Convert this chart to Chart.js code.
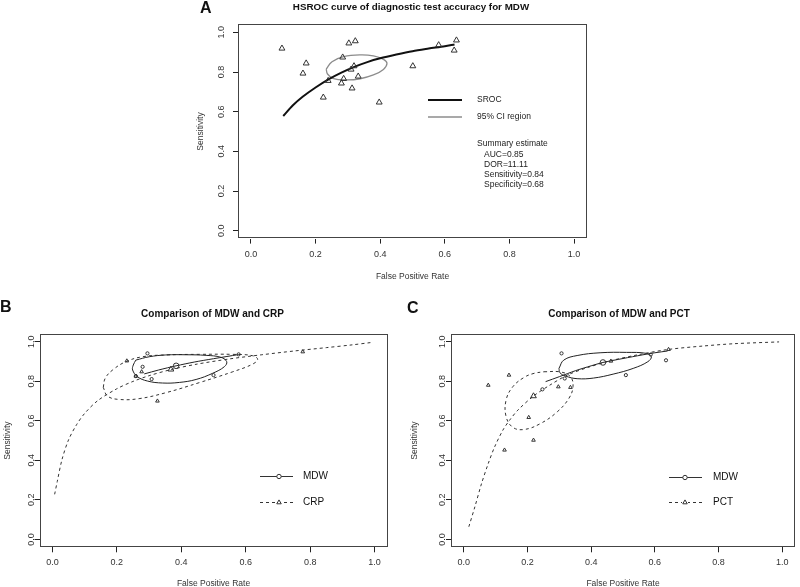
<!DOCTYPE html>
<html><head><meta charset="utf-8">
<script src="https://cdn.jsdelivr.net/npm/chart.js@4"></script>
<style>
html,body{margin:0;padding:0;background:#fff;}
#wrap{position:relative;width:800px;height:587px;overflow:hidden;background:#fff;}
#wrap canvas{position:absolute;left:0;top:0;}
</style></head><body>
<div id="wrap">
<canvas id="cA" width="800" height="587"></canvas>
<canvas id="cB" width="800" height="587"></canvas>
<canvas id="cC" width="800" height="587"></canvas>
</div>
<script>
// ---------- shared axis ticks ----------
const tickValues = [0, 0.2, 0.4, 0.6, 0.8, 1.0];
const tickLabels = ['0.0', '0.2', '0.4', '0.6', '0.8', '1.0'];
const axisMin = -0.04, axisMax = 1.04;
const xAxisTitle = 'False Positive Rate';
const yAxisTitle = 'Sensitivity';

// ---------- Panel A : HSROC for MDW ----------
const aTitle = 'HSROC curve of diagnostic test accuracy for MDW';
const aStudyFPR  = [0.096,0.161,0.171,0.239,0.224,0.284,0.303,0.323,0.287,0.280,0.310,0.319,0.332,0.313,0.397,0.501,0.581,0.629,0.636];
const aStudySens = [0.919,0.793,0.844,0.756,0.672,0.874,0.945,0.956,0.766,0.743,0.813,0.830,0.778,0.718,0.647,0.830,0.936,0.909,0.960];
const aSrocFPR  = [0.10,0.13,0.16,0.20,0.24,0.28,0.32,0.36,0.40,0.45,0.50,0.55,0.60,0.63];
const aSrocSens = [0.578,0.632,0.675,0.722,0.763,0.797,0.826,0.850,0.869,0.888,0.905,0.918,0.930,0.939];
const aCiFPR  = [0.233,0.251,0.287,0.338,0.379,0.410,0.421,0.410,0.379,0.338,0.297,0.256,0.237,0.233];
const aCiSens = [0.815,0.852,0.877,0.886,0.881,0.864,0.844,0.813,0.785,0.766,0.760,0.766,0.790,0.815];
const aLegendLabels = ['SROC', '95% CI region'];
const aSummaryLines = ['Summary estimate', 'AUC=0.85', 'DOR=11.11', 'Sensitivity=0.84', 'Specificity=0.68'];

// ---------- Panel B : MDW vs CRP ----------
const bTitle = 'Comparison of MDW and CRP';
const bMdwFPR  = [0.259,0.280,0.295,0.308,0.500,0.578];
const bMdwSens = [0.826,0.873,0.941,0.811,0.831,0.936];
const bCrpFPR  = [0.231,0.259,0.277,0.326,0.777];
const bCrpSens = [0.903,0.826,0.848,0.700,0.949];
const bMdwSummary = [0.384, 0.878];
const bCrpSummary = [0.368, 0.860];
const bMdwSrocFPR  = [0.285,0.33,0.384,0.44,0.50,0.578];
const bMdwSrocSens = [0.837,0.857,0.878,0.897,0.914,0.935];
const bCrpSrocFPR  = [0.007,0.015,0.03,0.05,0.075,0.10,0.14,0.20,0.25,0.30,0.368,0.45,0.55,0.65,0.75,0.85,0.93,0.99];
const bCrpSrocSens = [0.228,0.292,0.405,0.503,0.580,0.637,0.701,0.762,0.799,0.828,0.859,0.887,0.913,0.934,0.953,0.970,0.984,0.996];
const bMdwCiFPR  = [0.259,0.301,0.352,0.415,0.477,0.523,0.541,0.534,0.497,0.446,0.394,0.342,0.295,0.264,0.249,0.251,0.259];
const bMdwCiSens = [0.907,0.924,0.933,0.934,0.931,0.921,0.899,0.874,0.840,0.809,0.794,0.791,0.801,0.823,0.857,0.882,0.907];
const bCrpCiFPR  = [0.158,0.164,0.187,0.228,0.280,0.352,0.456,0.560,0.622,0.637,0.622,0.560,0.456,0.352,0.269,0.207,0.171,0.158];
const bCrpCiSens = [0.769,0.815,0.857,0.899,0.924,0.933,0.936,0.936,0.929,0.911,0.887,0.848,0.793,0.742,0.712,0.708,0.725,0.769];
const bLegendLabels = ['MDW', 'CRP'];

// ---------- Panel C : MDW vs PCT ----------
const cTitle = 'Comparison of MDW and PCT';
const cMdwFPR  = [0.247,0.307,0.317,0.509,0.587,0.635];
const cMdwSens = [0.759,0.941,0.814,0.831,0.935,0.906];
const cPctFPR  = [0.077,0.128,0.142,0.204,0.219,0.297,0.335,0.462,0.643];
const cPctSens = [0.780,0.452,0.831,0.617,0.502,0.772,0.769,0.902,0.961];
const cMdwSummary = [0.437, 0.895];
const cPctSummary = [0.219, 0.725];
const cMdwSrocFPR  = [0.257,0.30,0.35,0.40,0.437,0.50,0.56,0.60,0.64];
const cMdwSrocSens = [0.798,0.823,0.853,0.878,0.895,0.915,0.933,0.944,0.953];
const cPctSrocFPR  = [0.016,0.035,0.056,0.077,0.097,0.123,0.144,0.170,0.219,0.27,0.325,0.39,0.462,0.55,0.643,0.75,0.85,0.99];
const cPctSrocSens = [0.064,0.165,0.283,0.384,0.468,0.553,0.603,0.654,0.725,0.780,0.831,0.870,0.904,0.935,0.961,0.978,0.990,0.999];
const cMdwCiFPR  = [0.299,0.314,0.356,0.428,0.511,0.573,0.589,0.578,0.532,0.469,0.407,0.356,0.320,0.302,0.299];
const cMdwCiSens = [0.865,0.907,0.930,0.944,0.946,0.941,0.924,0.899,0.865,0.836,0.816,0.813,0.826,0.843,0.865];
const cPctCiFPR  = [0.252,0.304,0.335,0.343,0.330,0.294,0.242,0.190,0.154,0.133,0.133,0.154,0.190,0.221,0.252];
const cPctCiSens = [0.848,0.847,0.823,0.772,0.713,0.646,0.587,0.556,0.567,0.621,0.705,0.772,0.820,0.840,0.848];
const cLegendLabels = ['MDW', 'PCT'];

// ---------- helpers ----------
const FONT = '"Liberation Sans", Arial, Helvetica, sans-serif';
const INK = '#222';
const pts = (xs, ys) => xs.map((x, i) => ({x: x, y: ys[i]}));

function markers(data, style, r, color) {
  return {data, showLine:false, pointStyle:style, pointRadius:r, pointBorderWidth:1,
    pointBorderColor:color, pointBackgroundColor:'rgba(0,0,0,0)', borderColor:color, backgroundColor:'rgba(0,0,0,0)'};
}
function curve(data, color, width, dash, tension) {
  return {data, showLine:true, pointRadius:0, borderColor:color, borderWidth:width,
    borderDash:dash || [], tension:tension, fill:false, backgroundColor:'rgba(0,0,0,0)'};
}

function drawFrame(chart, ctx, o) {
  const a = chart.chartArea, xs = chart.scales.x, ys = chart.scales.y;
  ctx.strokeStyle = '#444'; ctx.lineWidth = 1; ctx.setLineDash([]);
  ctx.strokeRect(Math.round(a.left) + 0.5, Math.round(a.top) + 0.5, Math.round(a.right - a.left) - 1, Math.round(a.bottom - a.top) - 1);
  ctx.fillStyle = '#333'; ctx.font = '9px ' + FONT;
  ctx.textAlign = 'center'; ctx.textBaseline = 'middle';
  tickValues.forEach((v, i) => {
    ctx.fillText(tickLabels[i], xs.getPixelForValue(v), a.bottom + o.xTickOff);
    ctx.save();
    ctx.translate(a.left - o.yTickOff, ys.getPixelForValue(v));
    ctx.rotate(-Math.PI / 2);
    ctx.fillText(tickLabels[i], 0, 0);
    ctx.restore();
  });
  ctx.font = '8.5px ' + FONT;
  ctx.fillText(xAxisTitle, (a.left + a.right) / 2, a.bottom + o.xTitleOff);
  ctx.save();
  ctx.translate(a.left - o.yTitleOff, (a.top + a.bottom) / 2);
  ctx.rotate(-Math.PI / 2);
  ctx.fillText(yAxisTitle, 0, 0);
  ctx.restore();
  ctx.fillStyle = '#111';
  ctx.font = 'bold ' + o.titleSize + 'px ' + FONT;
  ctx.fillText(o.title, o.titleX, o.titleY);
  ctx.font = 'bold 16px ' + FONT; ctx.textAlign = 'left';
  ctx.fillText(o.letter, o.letterX, o.letterY);
}

function legendMarker(ctx, style, x, y, r) {
  ctx.setLineDash([]); ctx.beginPath();
  if (style === 'circle') { ctx.arc(x, y, r, 0, Math.PI * 2); }
  else { ctx.moveTo(x, y - r); ctx.lineTo(x + r * 0.866, y + r * 0.5); ctx.lineTo(x - r * 0.866, y + r * 0.5); ctx.closePath(); }
  ctx.stroke();
}

function compLegend(ctx, lx0, lx1, mx, tx, rows, labels) {
  ctx.lineWidth = 1; ctx.strokeStyle = '#333';
  ctx.font = '10px ' + FONT; ctx.fillStyle = '#111'; ctx.textAlign = 'left'; ctx.textBaseline = 'middle';
  ctx.setLineDash([]); ctx.beginPath(); ctx.moveTo(lx0, rows[0] + 0.5); ctx.lineTo(lx1, rows[0] + 0.5); ctx.stroke();
  ctx.fillStyle = '#fff'; ctx.beginPath(); ctx.arc(mx, rows[0] + 0.5, 2.2, 0, Math.PI * 2); ctx.fill();
  legendMarker(ctx, 'circle', mx, rows[0] + 0.5, 2.2);
  ctx.setLineDash([3, 3]); ctx.beginPath(); ctx.moveTo(lx0, rows[1] + 0.5); ctx.lineTo(lx1, rows[1] + 0.5); ctx.stroke();
  ctx.fillStyle = '#fff'; ctx.fillRect(mx - 3, rows[1] - 3, 6, 6);
  legendMarker(ctx, 'triangle', mx, rows[1] + 0.5, 2.6);
  ctx.fillStyle = '#111';
  ctx.fillText(labels[0], tx, rows[0]);
  ctx.fillText(labels[1], tx, rows[1]);
}

function makeChart(id, box, datasets, deco) {
  const pad = {left: box.left - 5, right: 800 - box.right, top: box.top, bottom: 587 - box.bottom - 5};
  const axis = (pos) => ({
    type: 'linear', position: pos, min: axisMin, max: axisMax,
    afterBuildTicks: s => { s.ticks = tickValues.map(v => ({value: v})); },
    ticks: {display: false},
    grid: {display: true, drawOnChartArea: false, drawTicks: true, tickLength: 5, color: INK, tickColor: INK, tickWidth: 1, lineWidth: 1},
    border: {display: false},
    title: {display: false}
  });
  return new Chart(document.getElementById(id), {
    type: 'scatter',
    data: {datasets},
    options: {
      responsive: false, animation: false, events: [],
      layout: {padding: pad},
      plugins: {legend: {display: false}, tooltip: {enabled: false}},
      scales: {x: axis('bottom'), y: axis('left')}
    },
    plugins: [{id: 'deco', afterDraw(chart) { const ctx = chart.ctx; ctx.save(); deco(chart, ctx); ctx.restore(); }}]
  });
}

// ---------- Panel A ----------
makeChart('cA', {left: 238, right: 587, top: 24.4, bottom: 238.6}, [
  markers(pts(aStudyFPR, aStudySens), 'triangle', 3.4, '#333'),
  curve(pts(aSrocFPR, aSrocSens), '#111', 2, null, 0.3),
  curve(pts(aCiFPR, aCiSens), '#8c8c8c', 1.3, null, 0.4)
], (chart, ctx) => {
  drawFrame(chart, ctx, {xTickOff: 15.5, yTickOff: 16, xTitleOff: 38.5, yTitleOff: 37,
    title: aTitle, titleSize: 9.8, titleX: 411, titleY: 7, letter: 'A', letterX: 200, letterY: 9});
  ctx.setLineDash([]);
  ctx.strokeStyle = '#111'; ctx.lineWidth = 2;
  ctx.beginPath(); ctx.moveTo(428, 100); ctx.lineTo(462, 100); ctx.stroke();
  ctx.strokeStyle = '#8c8c8c'; ctx.lineWidth = 1.3;
  ctx.beginPath(); ctx.moveTo(428, 117); ctx.lineTo(462, 117); ctx.stroke();
  ctx.fillStyle = '#222'; ctx.font = '8.5px ' + FONT; ctx.textAlign = 'left'; ctx.textBaseline = 'middle';
  ctx.fillText(aLegendLabels[0], 477, 100);
  ctx.fillText(aLegendLabels[1], 477, 117);
  const sy = [144, 155, 165, 175, 185];
  aSummaryLines.forEach((t, i) => ctx.fillText(t, i === 0 ? 477 : 484, sy[i]));
});

// ---------- Panel B ----------
makeChart('cB', {left: 39.5, right: 387.5, top: 333.8, bottom: 547.3}, [
  markers(pts(bMdwFPR, bMdwSens), 'circle', 1.6, '#333'),
  markers(pts(bCrpFPR, bCrpSens), 'triangle', 2.1, '#333'),
  markers([{x: bMdwSummary[0], y: bMdwSummary[1]}], 'circle', 2.8, '#333'),
  markers([{x: bCrpSummary[0], y: bCrpSummary[1]}], 'triangle', 3.3, '#333'),
  curve(pts(bMdwSrocFPR, bMdwSrocSens), '#222', 1, null, 0.3),
  curve(pts(bCrpSrocFPR, bCrpSrocSens), '#333', 1, [3, 3], 0.3),
  curve(pts(bMdwCiFPR, bMdwCiSens), '#222', 1, null, 0.4),
  curve(pts(bCrpCiFPR, bCrpCiSens), '#333', 1, [3, 3], 0.4)
], (chart, ctx) => {
  drawFrame(chart, ctx, {xTickOff: 15.7, yTickOff: 7.5, xTitleOff: 36.7, yTitleOff: 32,
    title: bTitle, titleSize: 10, titleX: 212.5, titleY: 314, letter: 'B', letterX: 0, letterY: 308});
  compLegend(ctx, 260, 293, 279, 303, [476, 502], bLegendLabels);
});

// ---------- Panel C ----------
makeChart('cC', {left: 451, right: 798, top: 333.8, bottom: 547.3}, [
  markers(pts(cMdwFPR, cMdwSens), 'circle', 1.6, '#333'),
  markers(pts(cPctFPR, cPctSens), 'triangle', 2.1, '#333'),
  markers([{x: cMdwSummary[0], y: cMdwSummary[1]}], 'circle', 2.8, '#333'),
  markers([{x: cPctSummary[0], y: cPctSummary[1]}], 'triangle', 3.3, '#333'),
  curve(pts(cMdwSrocFPR, cMdwSrocSens), '#222', 1, null, 0.3),
  curve(pts(cPctSrocFPR, cPctSrocSens), '#333', 1, [3, 3], 0.3),
  curve(pts(cMdwCiFPR, cMdwCiSens), '#222', 1, null, 0.4),
  curve(pts(cPctCiFPR, cPctCiSens), '#333', 1, [3, 3], 0.4)
], (chart, ctx) => {
  drawFrame(chart, ctx, {xTickOff: 15.7, yTickOff: 8.5, xTitleOff: 36.7, yTitleOff: 36,
    title: cTitle, titleSize: 10, titleX: 619, titleY: 314, letter: 'C', letterX: 407, letterY: 309});
  compLegend(ctx, 669, 702, 685, 713, [477, 502], cLegendLabels);
});
</script>
</body></html>
